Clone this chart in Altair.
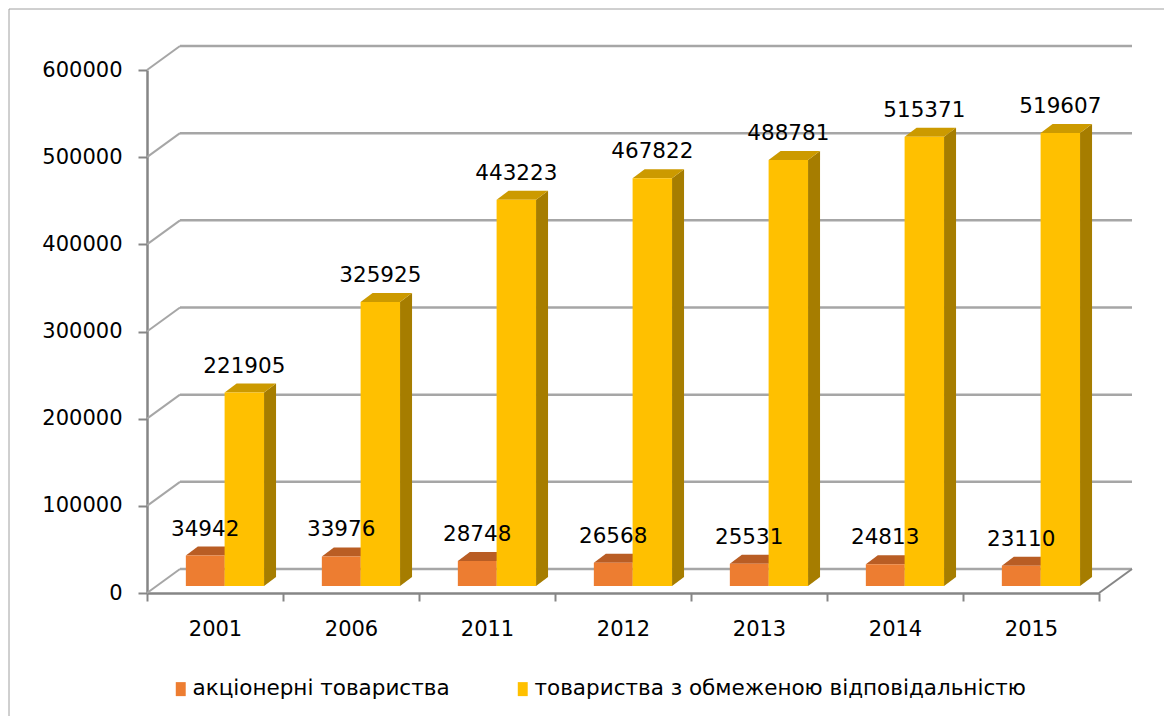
import altair as alt
import pandas as pd

# ---------------- data ----------------
years = ["2001", "2006", "2011", "2012", "2013", "2014", "2015"]
ak_values = [34942, 33976, 28748, 26568, 25531, 24813, 23110]
tov_values = [221905, 325925, 443223, 467822, 488781, 515371, 519607]
series = ["акціонерні товариства", "товариства з обмеженою відповідальністю"]
y_ticks = [0, 100000, 200000, 300000, 400000, 500000, 600000]

# ---------------- geometry / style constants ----------------
W, H = 952, 523
YMAX = 600000
NCAT = len(years)
PX_X = NCAT / W          # data units per pixel (x)
PX_Y = YMAX / H          # data units per pixel (y)
WALL_DX, WALL_DY = 33, -24     # back wall offset (px)
PLANE_DX, PLANE_DY = 9.6, -7   # bar plane offset (px)
DEPTH_DX, DEPTH_DY = 12, -9    # bar depth (px)
SLOTS = [(0.215, 0.5), (0.5, 0.79)]

FRONT = ["#ED7D31", "#FFC000"]
TOP = ["#B95D24", "#CC9A00"]
SIDE = ["#A34F1C", "#A67D00"]
AXIS_C = "#868686"
GRID_C = "#A6A6A6"
FONT = "DejaVu Sans"


def frames(si, vals):
    l, r = SLOTS[si]
    ddx = DEPTH_DX * PX_X
    ddy = -DEPTH_DY * PX_Y
    front, top, side, lab = [], [], [], []
    for i, v in enumerate(vals):
        front.append({"series": series[si], "x": i + l, "x2": i + r, "y": v, "y2": 0})
        top.append({"bar": i, "y": v, "xa": i + l, "xb": i + r})
        top.append({"bar": i, "y": v + ddy, "xa": i + l + ddx, "xb": i + r + ddx})
        side.append({"bar": i, "x": i + r, "y": v, "y2": 0})
        side.append({"bar": i, "x": i + r + ddx, "y": v + ddy, "y2": ddy})
        lab.append({"xc": i + (l + r) / 2, "y": v, "label": str(v)})
    return (pd.DataFrame(front), pd.DataFrame(top), pd.DataFrame(side), pd.DataFrame(lab))


xscale = alt.Scale(domain=[0, NCAT], nice=False, zero=False)
yscale = alt.Scale(domain=[0, YMAX], nice=False)

label_expr = "[" + ",".join("'%s'" % y for y in years) + "][datum.value] || ''"

x_axis = alt.Axis(
    values=list(range(NCAT + 1)), labelExpr=label_expr, labelOffset=W / NCAT / 2,
    labelFlush=False, labelOverlap=False, labelBound=False, title=None, grid=False,
    domainColor=AXIS_C, domainWidth=2.5, tickColor=AXIS_C, tickWidth=2, tickSize=8,
    labelFont=FONT, labelFontSize=21, labelColor="#000000", labelPadding=17,
)
y_axis = alt.Axis(
    values=y_ticks, format="d", title=None, grid=False,
    domainColor=AXIS_C, domainWidth=2.5, tickColor=AXIS_C, tickWidth=2, tickSize=9,
    labelFont=FONT, labelFontSize=21, labelColor="#000000", labelPadding=16,
)

legend = alt.Legend(
    orient="none", legendX=23, legendY=608, direction="horizontal", title=None,
    symbolType="M-0.71,-1H0.71V1H-0.71Z", symbolSize=196, symbolStrokeWidth=0,
    labelFont=FONT, labelFontSize=21.5, labelColor="#000000", labelLimit=800,
    labelOffset=1, columnPadding=62, padding=0,
)

grid_df = pd.DataFrame({"v": y_ticks})
one_df = pd.DataFrame({"v": [0]})

# frame around chart
frame = alt.Chart(one_df).mark_rect(fill=None, stroke="#A0A0A0", strokeWidth=1).encode(
    x=alt.value(-138), x2=alt.value(1300), y=alt.value(-61), y2=alt.value(900)
)

wall = alt.Chart(grid_df).mark_rule(
    color=GRID_C, strokeWidth=2.5, xOffset=WALL_DX, x2Offset=WALL_DX, yOffset=WALL_DY
).encode(
    x=alt.X(datum=0, type="quantitative", scale=xscale, axis=x_axis),
    x2=alt.datum(NCAT),
    y=alt.Y("v:Q", scale=yscale, axis=y_axis),
)
diag = alt.Chart(grid_df).mark_rule(
    color=GRID_C, strokeWidth=2, x2Offset=WALL_DX, y2Offset=WALL_DY
).encode(
    x=alt.X(datum=0, type="quantitative", scale=xscale),
    x2=alt.datum(0),
    y=alt.Y("v:Q", scale=yscale),
    y2="v:Q",
)
floor_diag = alt.Chart(one_df).mark_rule(
    color=AXIS_C, strokeWidth=2, x2Offset=WALL_DX, y2Offset=WALL_DY
).encode(
    x=alt.X(datum=NCAT, type="quantitative", scale=xscale),
    x2=alt.datum(NCAT),
    y=alt.Y("v:Q", scale=yscale),
    y2="v:Q",
)

layers = [frame, wall, diag, floor_diag]
labels_layers = []
off = dict(xOffset=PLANE_DX, x2Offset=PLANE_DX, yOffset=PLANE_DY, y2Offset=PLANE_DY)
for si, vals in enumerate([ak_values, tov_values]):
    fdf, tdf, sdf, ldf = frames(si, vals)
    front = alt.Chart(fdf).mark_rect(**off).encode(
        x=alt.X("x:Q", scale=xscale), x2="x2:Q",
        y=alt.Y("y:Q", scale=yscale), y2="y2:Q",
        color=alt.Color("series:N", scale=alt.Scale(domain=series, range=FRONT),
                        legend=legend if si == 0 else None),
    )
    side = alt.Chart(sdf).mark_area(orient="vertical", color=SIDE[si], **off).encode(
        x=alt.X("x:Q", scale=xscale),
        y=alt.Y("y:Q", scale=yscale, stack=None), y2="y2:Q",
        detail="bar:N",
    )
    top = alt.Chart(tdf).mark_area(orient="horizontal", color=TOP[si], **off).encode(
        x=alt.X("xa:Q", scale=xscale, stack=None), x2="xb:Q",
        y=alt.Y("y:Q", scale=yscale),
        detail="bar:N",
    )
    text = alt.Chart(ldf).mark_text(
        font=FONT, fontSize=21.5, color="#000000", baseline="alphabetic", align="center",
        xOffset=PLANE_DX, yOffset=PLANE_DY, dy=-20,
    ).encode(
        x=alt.X("xc:Q", scale=xscale), y=alt.Y("y:Q", scale=yscale), text="label:N"
    )
    layers += [side, top, front]
    labels_layers.append(text)

chart = alt.layer(*layers, *labels_layers).properties(
    width=W, height=H,
    autosize=alt.AutoSizeParams(type="none"),
    padding={"left": 139, "top": 62, "right": 65, "bottom": 123},
    background="#FFFFFF",
).configure_view(stroke=None)

chart.save("out.html", embed_options={"renderer": "svg", "actions": False})
